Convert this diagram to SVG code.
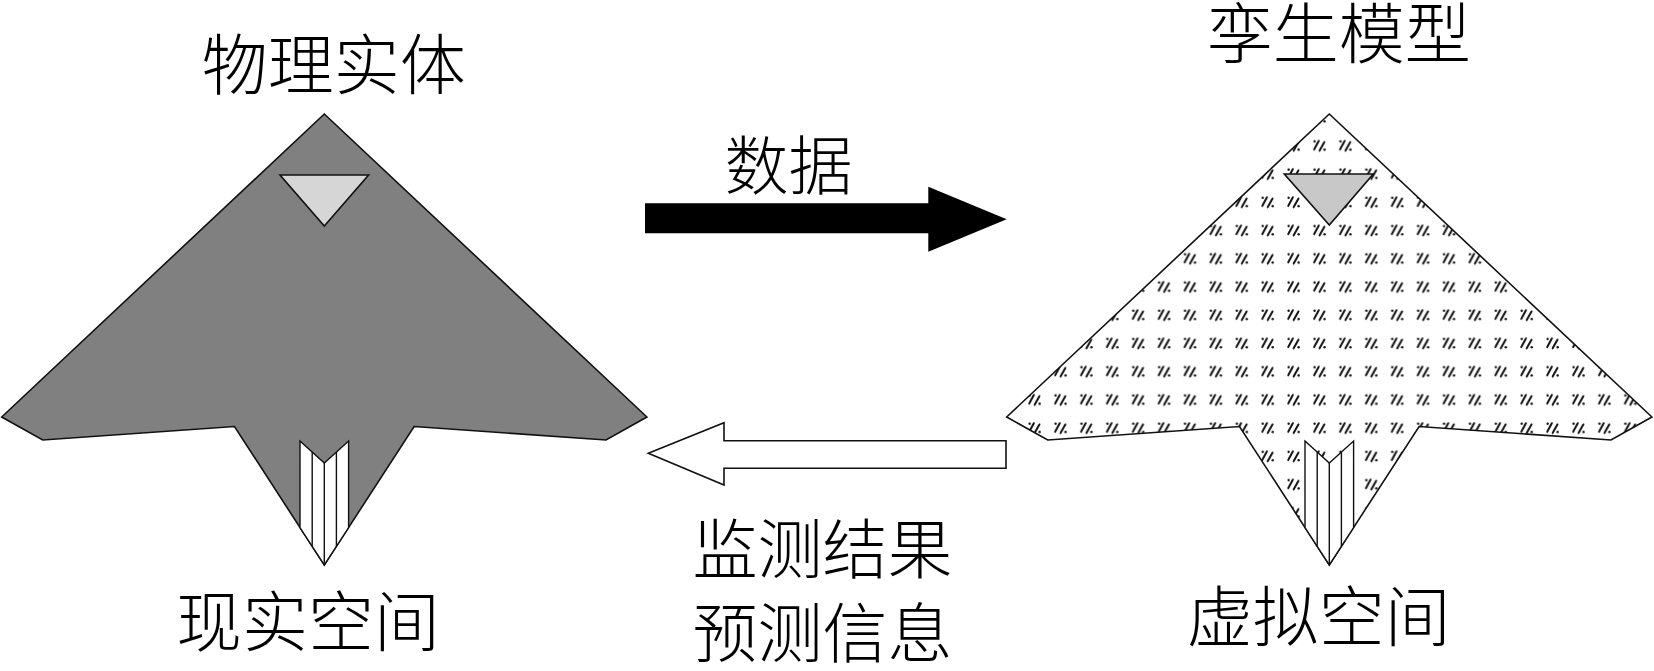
<svg xmlns="http://www.w3.org/2000/svg" width="1654" height="671" viewBox="0 0 1654 671">
  <style>
    .lbl { font-family: "Noto Sans CJK SC", "Noto Sans", sans-serif; font-weight: 300; fill: #000; text-anchor: middle; }
    .body { stroke: #111; stroke-width: 1.6; stroke-linejoin: miter; }
    .canopy { stroke: #111; stroke-width: 1.6; }
    .nozzle { fill: #fff; stroke: #111; stroke-width: 1.4; }
    .stripe { stroke: #111; stroke-width: 1.4; fill: none; }
  </style>
  <defs>
    <pattern id="hatch" patternUnits="userSpaceOnUse" x="1312.05" y="130.9" width="25.9" height="28.23">
      <g stroke="#111" stroke-width="2" stroke-linecap="round" fill="none">
        <line x1="7.2" y1="18.6" x2="11.8" y2="10"/>
        <line x1="12.6" y1="19.8" x2="17.4" y2="11.2"/>
      </g>
      <circle cx="7.6" cy="10.4" r="1.2" fill="#111"/>
      <circle cx="17.6" cy="18.8" r="1.2" fill="#111"/>
    </pattern>
    <polygon id="plane" points="324.3,114 646.9,417 606,440 414.1,426.5 324.3,565 234.5,426.5 42.7,440 1.7,417"/>
  </defs>

  <g id="physical-entity">
    <use href="#plane" class="body" fill="#808080"/>
    <polygon class="canopy" fill="#d6d6d6" points="280,175 368.6,175 324.3,226"/>
    <polygon class="nozzle" points="300,441 324.3,463 348.6,441 348.6,527.6 324.3,565 300,527.6"/>
    <path class="stripe" d="M312.2,452 V546.4 M324.3,463 V565 M336.4,452 V546.4"/>
  </g>

  <g id="twin-model" transform="translate(1005,0)">
    <use href="#plane" fill="#fff"/>
    <use href="#plane" fill="url(#hatch)"/>
    <use href="#plane" class="body" fill="none"/>
    <polygon class="canopy" fill="#c8c8c8" points="279.3,174 368.3,174 324.3,225"/>
    <polygon class="nozzle" points="300,441 324.3,463 348.6,441 348.6,527.6 324.3,565 300,527.6"/>
    <path class="stripe" d="M312.2,452 V546.4 M324.3,463 V565 M336.4,452 V546.4"/>
  </g>

  <g id="connectors">
    <polygon id="data-arrow" fill="#000" points="645,203.3 928.3,203.3 928.3,186.7 1006.7,219.3 928.3,251.7 928.3,233.3 645,233.3"/>
    <polygon id="feedback-arrow" fill="#fff" stroke="#111" stroke-width="1.6" points="648.3,453.3 724,422.7 724,440.7 1006,440.7 1006,468.3 724,468.3 724,485"/>
  </g>

  <g id="labels">
    <text class="lbl" x="333.7" y="88.5" font-size="66">物理实体</text>
    <text class="lbl" x="1338.8" y="58" font-size="66">孪生模型</text>
    <text class="lbl" x="788.5" y="188.5" font-size="64">数据</text>
    <text class="lbl" x="822.5" y="572.5" font-size="65">监测结果</text>
    <text class="lbl" x="822.5" y="656.5" font-size="65">预测信息</text>
    <text class="lbl" x="308" y="645.5" font-size="66">现实空间</text>
    <text class="lbl" x="1318.7" y="640.5" font-size="66">虚拟空间</text>
  </g>
</svg>
